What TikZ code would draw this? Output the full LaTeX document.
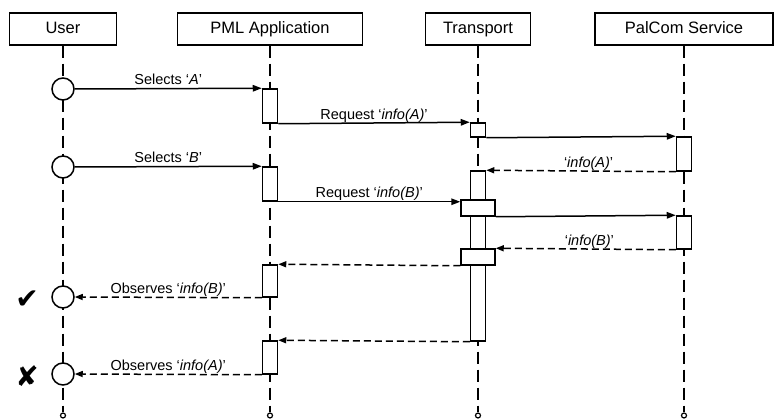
\documentclass[tikz,border=0pt]{standalone}
\usepackage{fontspec}
\setmainfont{Liberation Sans}
\newfontfamily\symfont{DejaVu Sans}
\usetikzlibrary{arrows.meta}
\begin{document}
\begin{tikzpicture}[x=1pt,y=-1pt,
  head/.style={draw, line width=1.5pt, minimum height=32pt, inner sep=0pt, text height=12pt, text depth=3.5pt, font=\fontsize{16.5}{18}\selectfont},
  life/.style={line width=1.5pt, dash pattern=on 12pt off 6pt},
  act/.style={draw, fill=white, line width=1.5pt, minimum width=15pt, inner sep=0pt},
  wide/.style={act, minimum width=34pt},
  actor/.style={draw, fill=white, circle, line width=1.5pt, minimum size=22pt, inner sep=0pt},
  msg/.style={line width=1.5pt, -{Triangle[length=9pt,width=6.5pt]}},
  ret/.style={line width=1.5pt, dash pattern=on 7pt off 4pt, -{Triangle[length=8pt,width=6pt]}},
  lbl/.style={above=3pt, inner sep=0pt, text depth=0pt, font=\fontsize{14.5}{16}\selectfont},
  endpt/.style={draw, fill=white, circle, line width=1.2pt, minimum size=5pt, inner sep=0pt},
  verdict/.style={font=\symfont\fontsize{28}{28}\selectfont, inner sep=0pt},
]
\useasboundingbox (0,0) rectangle (774,419);

% headers
\node[head, minimum width=107pt] (user) at (63,29) {User};
\node[head, minimum width=185pt] (pml) at (270,29) {PML Application};
\node[head, minimum width=105pt] (trans) at (478,29) {Transport};
\node[head, minimum width=178pt] (pal) at (684,29) {PalCom Service};

% lifeline ends
\node[endpt] (eu) at (63,415.5) {};
\node[endpt] (ep) at (270,415.5) {};
\node[endpt] (et) at (478,415.5) {};
\node[endpt] (es) at (684,415.5) {};

\draw[life] (user.south) -- (eu.north);
\draw[life] (pml.south) -- (ep.north);
\draw[life] (trans.south) -- (et.north);
\draw[life] (pal.south) -- (es.north);

% actor circles
\node[actor] (c1) at (63,89) {};
\node[actor] (c2) at (63,167) {};
\node[actor] (c3) at (63,297) {};
\node[actor] (c4) at (63,374) {};

% activation boxes
\node[act, minimum height=34pt] (pa1) at (270,106) {};
\node[act, minimum height=14pt] (ta1) at (478,130) {};
\node[act, minimum height=34pt] (sa1) at (684,154) {};
\node[act, minimum height=170pt] (ta2) at (478,256) {};
\node[act, minimum height=34pt] (pa2) at (270,184) {};
\node[wide, minimum height=16pt] (tw1) at (478,208) {};
\node[act, minimum height=33pt] (sa2) at (684,232.5) {};
\node[wide, minimum height=16pt] (tw2) at (478,257) {};
\node[act, minimum height=32pt] (pa3) at (270,281) {};
\node[act, minimum height=33pt] (pa4) at (270,357.5) {};

% messages
\draw[msg] (c1.east) -- node[lbl] {Selects ‘\textit{A}’} (pa1.north west);
\draw[msg] (pa1.south east) -- node[lbl] {Request ‘\textit{info(A)}’} (ta1.north west);
\draw[msg] (ta1.south east) -- (sa1.north west);
\draw[ret] (sa1.south west) -- node[lbl, pos=0.46] {‘\textit{info(A)}’} (ta2.north east);
\draw[msg] (c2.east) -- node[lbl] {Selects ‘\textit{B}’} (pa2.north west);
\draw[msg] (pa2.south east) -- node[lbl] {Request ‘\textit{info(B)}’} (pa2.south east -| tw1.west);
\draw[msg] (tw1.south east) -- (sa2.north west);
\draw[ret] (sa2.south west) -- node[lbl, pos=0.48] {‘\textit{info(B)}’} (tw2.north east);
\draw[ret] (tw2.south west) -- (pa3.north east);
\draw[ret] (pa3.south west) -- node[lbl] {Observes ‘\textit{info(B)}’} (c3.east);
\draw[ret] (ta2.south west) -- (pa4.north east);
\draw[ret] (pa4.south west) -- node[lbl] {Observes ‘\textit{info(A)}’} (c4.east);

% verdict marks
\node[verdict] (ok) at (27,300) {✔};
\node[verdict] (bad) at (27,376) {✘};
\end{tikzpicture}
\end{document}
